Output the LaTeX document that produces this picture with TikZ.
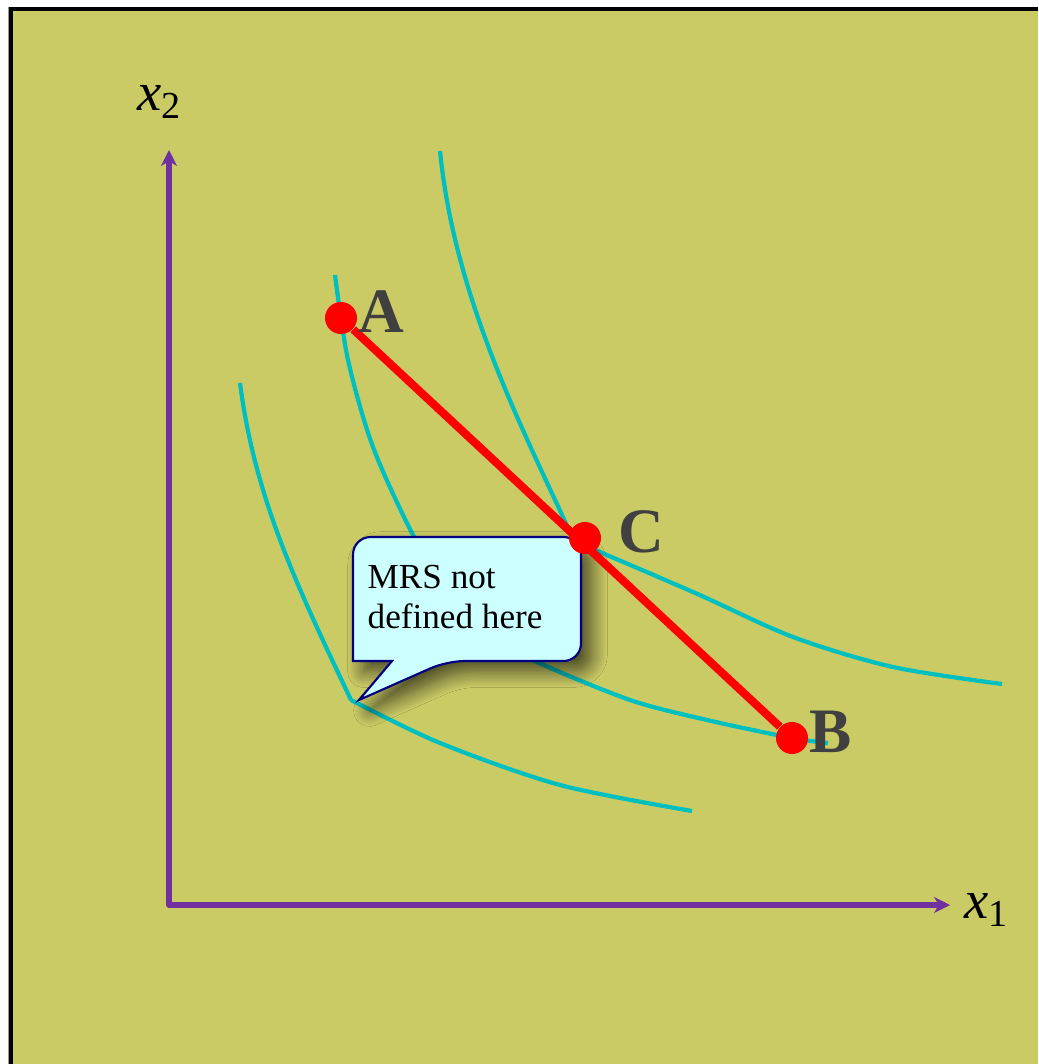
\documentclass[tikz,border=0pt]{standalone}
\usepackage{fontspec}
\setmainfont{Liberation Serif}
\usetikzlibrary{positioning, arrows.meta, shadows.blur}
\definecolor{olivebg}{HTML}{CBCB66}
\definecolor{icurve}{HTML}{00BFBF}
\definecolor{axispurple}{HTML}{7030A0}
\definecolor{notefill}{HTML}{CCFFFF}
\definecolor{noteedge}{HTML}{000080}
\definecolor{labgray}{HTML}{404040}

\begin{document}
\begin{tikzpicture}[
  x=0.01cm, y=-0.01cm,
  node distance=0pt,
  axis/.style={draw=axispurple, line width=1.5pt, line join=round,
               {Stealth[length=4.5pt, width=4.5pt, inset=1.3pt]}-{Stealth[length=4.5pt, width=4.5pt, inset=1.3pt]}},
  indiff/.style={draw=icurve, line width=1.2pt},
  budget/.style={draw=red, line width=2.3pt},
  dot/.style={circle, fill=red, inner sep=0pt, minimum size=0.32cm},
  ptlab/.style={font=\fontsize{18}{20}\selectfont\bfseries, text=labgray, inner sep=0pt},
  axlab/.style={font=\fontsize{15.5}{18}\selectfont, inner sep=0pt},
  note/.style={fill=notefill, draw=noteedge, line width=0.6pt,
               blur shadow={shadow xshift=3pt, shadow yshift=-3pt, shadow blur radius=4.5pt,
                            shadow blur steps=12, shadow opacity=65}},
  notetext/.style={font=\fontsize{10}{11.1}\selectfont, align=left, inner sep=0pt}
]
\useasboundingbox (0,0) rectangle (1038,1064);
% frame
\fill[white] (0,0) rectangle (1038,1064);
\fill[black!40] (8,7) rectangle (9,1064);
\fill[black] (9,7) rectangle (1038,1064);
\fill[olivebg] (12.5,11) rectangle (1038,1064);

% axes
\coordinate (O) at (169,905);
\coordinate (ytip) at (169,150);
\coordinate (xtip) at (950,905);
\draw[axis] (ytip) |- (xtip);
\node[axlab] (ylab) at (160,102) {\textit{x}\textsubscript{2}};
\node[axlab] (xlab) at (987,910) {\textit{x}\textsubscript{1}};

% indifference curves
\draw[indiff] (240,383) .. controls (255,500) and (299,590) .. (351,700)
              plot[smooth] coordinates {(351,700) (440,743) (560,785) (692,811)};
\draw[indiff] plot[smooth] coordinates {(335,275) (348,360) (373,447) (413,535) (455,605)
              (500,640) (537,662) (630,700) (707,720) (792,738) (828,743)};
\draw[indiff] (440,151) .. controls (455,301) and (524,431) .. (574,541)
              plot[smooth] coordinates {(574,541) (693,592) (793,637) (893,667) (1002,684)};

% callout
\draw[note] (467,537) [rounded corners=5pt] -| (581,661) -- (447,661) [sharp corners] -- (359,700)
  -- (392,661) -- (353,661) [rounded corners=5pt] |- (400,537) -- cycle;
\node[notetext, anchor=north west] (mrs) at (367,565) {MRS not\\defined here};

% bundles
\node[dot] (A) at (341,318) {};
\node[dot] (B) at (792,738) {};
\node[dot] (C) at (585,538) {};
\draw[budget] (A) -- (B);
\node[ptlab, right=0pt of A, yshift=1.7pt] (Alab) {A};
\node[ptlab, right=0pt of B, yshift=1.7pt] (Blab) {B};
\node[ptlab, right=4.5pt of C, yshift=1.7pt] (Clab) {C};
\end{tikzpicture}
\end{document}
